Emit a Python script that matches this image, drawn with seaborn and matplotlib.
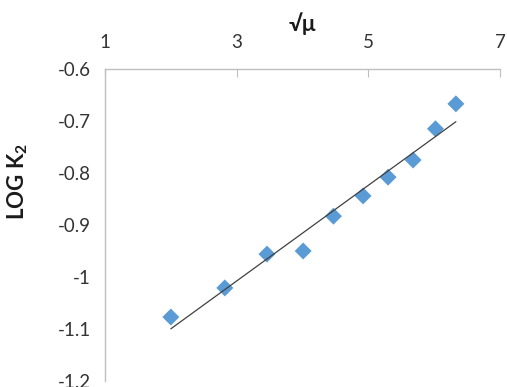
import numpy as np
import pandas as pd
import matplotlib
matplotlib.use("Agg")
import matplotlib.pyplot as plt
import seaborn as sns

sqrt_mu = [2.00, 2.82, 3.46, 4.01, 4.47, 4.92, 5.30, 5.68, 6.02, 6.33]
log_k2 = [-1.077, -1.021, -0.956, -0.950, -0.883, -0.844, -0.808, -0.775, -0.715, -0.667]
x_ticks = [1, 3, 5, 7]
y_ticks = [-0.6, -0.7, -0.8, -0.9, -1.0, -1.1, -1.2]
y_tick_labels = ["-0.6", "-0.7", "-0.8", "-0.9", "-1", "-1.1", "-1.2"]

df = pd.DataFrame({"x": sqrt_mu, "y": log_k2})

sns.set_style("white")
plt.rcParams["font.family"] = ["Lato", "DejaVu Sans"]

fig = plt.figure(figsize=(5.07, 3.87), dpi=100)
ax = fig.add_axes([105 / 507, 1 - 381 / 387, 395 / 507, 312 / 387])

# trend line (least squares over the data range)
coef = np.polyfit(df["x"], df["y"], 1)
xs = np.array([df["x"].min(), df["x"].max()])
trend = pd.DataFrame({"x": xs, "y": np.polyval(coef, xs)})
sns.lineplot(data=trend, x="x", y="y", ax=ax, color="#404040", linewidth=0.9, zorder=3)

sns.scatterplot(data=df, x="x", y="y", ax=ax, marker="D", s=75, color="#5B9BD5",
                edgecolor="none", linewidth=0, zorder=2)

ax.set_xlim(1, 7)
ax.set_ylim(-1.2, -0.6)
ax.set_xticks(x_ticks)
ax.set_yticks(y_ticks)
ax.set_yticklabels(y_tick_labels)

ax.xaxis.tick_top()
ax.xaxis.set_label_position("top")
for s in ["right", "bottom"]:
    ax.spines[s].set_visible(False)
for s in ["left", "top"]:
    ax.spines[s].set_color("#BFBFBF")
    ax.spines[s].set_linewidth(1.0)

ax.tick_params(axis="x", which="both", direction="in", length=6, color="#BFBFBF",
               labelsize=13.5, labelcolor="#333333", pad=13)
ax.tick_params(axis="y", which="both", direction="out", length=5, color="#BFBFBF",
               labelsize=13.5, labelcolor="#333333", pad=5)

ax.set_xlabel("√μ", fontsize=16, fontweight="bold", color="#1a1a1a", labelpad=2)
ax.set_ylabel("LOG K$_\\mathregular{2}$", fontsize=16, fontweight="bold", color="#1a1a1a")
ax.yaxis.set_label_coords(-0.19, 0.64)

fig.savefig("out.png", dpi=100)
